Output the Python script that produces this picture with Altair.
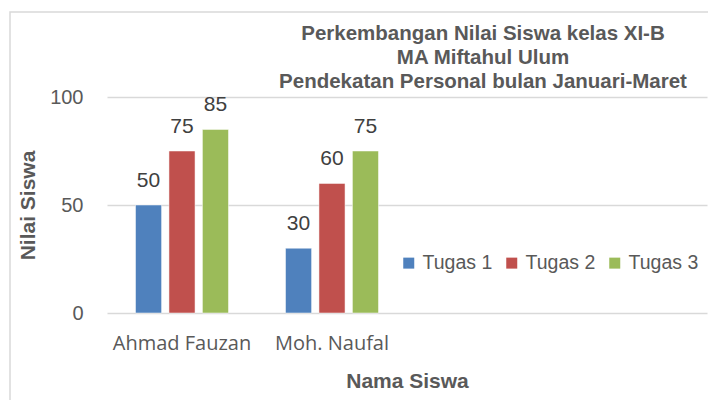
import altair as alt
import pandas as pd

students = ["Ahmad Fauzan", "Moh. Naufal"]
series = ["Tugas 1", "Tugas 2", "Tugas 3"]
tugas1 = [50, 30]
tugas2 = [75, 60]
tugas3 = [85, 75]
colors = ["#4F81BD", "#C0504D", "#9BBB59"]
title_lines = ["Perkembangan Nilai Siswa kelas XI-B", "MA Miftahul Ulum",
               "Pendekatan Personal bulan Januari-Maret"]
x_domain = students + ["_pad1", "_pad2"]

rows = []
for s, vals in zip(series, [tugas1, tugas2, tugas3]):
    for st, v in zip(students, vals):
        rows.append({"Nama": st, "Seri": s, "Nilai": v})
df = pd.DataFrame(rows)

sans = "Liberation Sans, Arial, sans-serif"
cat_font = "Open Sans, sans-serif"

x_scale = alt.Scale(domain=x_domain, paddingInner=0.38, paddingOuter=0.19)
x_enc = alt.X("Nama:N", scale=x_scale,
              axis=alt.Axis(title="Nama Siswa", labelExpr="indexof(datum.label,'_pad')==0 ? '' : datum.label",
                            labelAngle=0, ticks=False, domain=False, grid=False,
                            labelFont=cat_font, labelFontSize=20, labelColor="#595959", labelPadding=20,
                            titleFont=sans, titleFontSize=21, titleFontWeight="bold", titleColor="#595959",
                            titlePadding=17))
y_enc = alt.Y("Nilai:Q", scale=alt.Scale(domain=[0, 100], nice=False),
              axis=alt.Axis(title="Nilai Siswa", values=[0, 50, 100], ticks=False, domain=False,
                            grid=True, gridColor="#D9D9D9", gridWidth=1.5,
                            labelFont=sans, labelFontSize=20, labelColor="#595959", labelPadding=24,
                            titleFont=sans, titleFontSize=21, titleFontWeight="bold", titleColor="#595959",
                            titleX=-79, titleY=108, titleAngle=-90, titleBaseline="middle"))
xo = alt.XOffset("Seri:N", scale=alt.Scale(domain=series, paddingInner=0.22, paddingOuter=0))

base = alt.Chart(df)
bars = base.mark_bar(stroke="white", strokeWidth=0.5).encode(
    x=x_enc, y=y_enc, xOffset=xo,
    color=alt.Color("Seri:N", scale=alt.Scale(domain=series, range=colors),
                    legend=alt.Legend(title=None, orient="none", direction="horizontal",
                                      legendX=292, legendY=156, symbolType="square", symbolSize=121,
                                      symbolStrokeWidth=0, labelFont=sans, labelFontSize=19.5,
                                      labelColor="#595959", columnPadding=9, labelOffset=4)),
)
labels = base.mark_text(baseline="alphabetic", dy=-18, font=sans, fontSize=21, color="#404040").encode(
    x=alt.X("Nama:N", scale=x_scale), y="Nilai:Q", xOffset=xo, text="Nilai:Q")
frame = alt.Chart(pd.DataFrame({"a": [0]})).mark_rect(fill=None, stroke="#D9D9D9", strokeWidth=1.5, clip=False).encode(
    x=alt.value(-97), x2=alt.value(700), y=alt.value(-85), y2=alt.value(400))

chart = alt.layer(frame, bars, labels).properties(
    width=600, height=216,
    title=alt.TitleParams(text=title_lines, font=sans, fontSize=20.5, fontWeight="bold", color="#595959",
                          anchor="middle", frame="group", dx=76, dy=89, lineHeight=24, offset=8),
    padding={"left": 99, "top": 89, "right": 1, "bottom": 87},
    autosize=alt.AutoSizeParams(type="none"),
).configure_view(stroke=None)

chart.save("out.html", embed_options={"renderer": "svg", "actions": False})
